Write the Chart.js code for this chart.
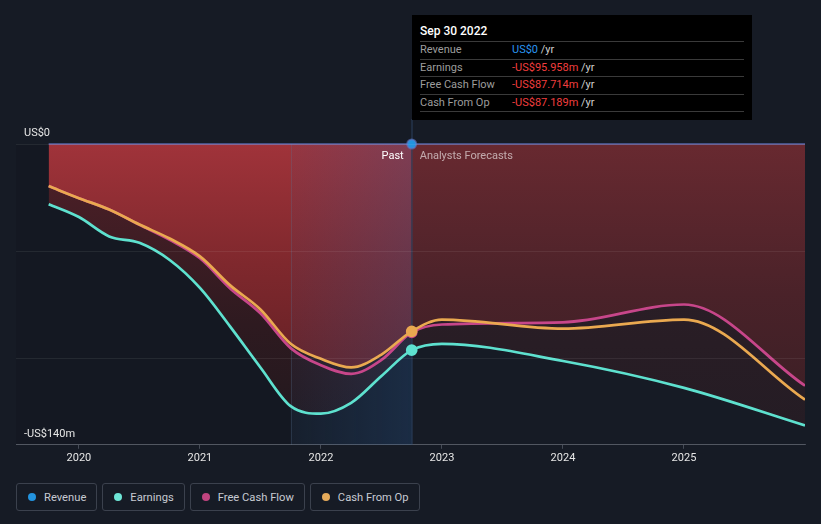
<!DOCTYPE html>
<html>
<head>
<meta charset="utf-8">
<script src="https://cdn.jsdelivr.net/npm/chart.js@4.4.1/dist/chart.umd.min.js"></script>
<style>
  html, body { margin: 0; padding: 0; background: #161b25; }
  body { width: 821px; height: 524px; position: relative; overflow: hidden; font-family: Roboto, 'Noto Sans', sans-serif; }
  #chart { position: absolute; left: 0; top: 0; }
  #tip { position: absolute; top: 15px; width: 324px; background: #000; padding: 8px 8px 8px 8px; font-size: 11px; }
  #tip .title { color: #fff; font-size: 12px; font-weight: 500; height: 18px; line-height: 16px; }
  #tip .row { border-top: 1px solid #3a3a3a; height: 16.5px; line-height: 16.5px; display: flex; }
  #tip .row:last-child { border-bottom: 1px solid #3a3a3a; }
  #tip .lab { width: 92px; color: #9d9d9d; }
  #tip .unit { color: #cfcfcf; }
  #legend { position: absolute; left: 16px; top: 483px; display: flex; gap: 5px; }
  #legend .item { box-sizing: border-box; height: 28px; border: 1px solid #3b414d; border-radius: 3px; padding: 0 10px 0 11px; display: flex; align-items: center; color: #c6cad2; font-size: 11.2px; }
  #legend .dot { width: 8px; height: 8px; border-radius: 50%; margin-right: 8px; }
</style>
</head>
<body>
<canvas id="chart" width="821" height="470"></canvas>
<div id="tip"></div>
<div id="legend"></div>
<script>
// periods as decimal years: quarterly history, then yearly analyst forecasts
const periods      = [2019.75, 2020.0, 2020.25, 2020.5, 2020.75, 2021.0, 2021.25, 2021.5, 2021.75, 2022.0, 2022.25, 2022.5, 2022.75, 2023.0, 2024.0, 2025.0, 2026.0];
const revenue      = [0, 0, 0, 0, 0, 0, 0, 0, 0, 0, 0, 0, 0, 0, 0, 0, 0];
const earnings     = [-28, -34, -43, -46, -54, -67, -85, -104, -122, -125.5, -120.5, -108, -95.958, -93, -101, -113.5, -131];
const freeCashFlow = [-19.6, -25.2, -30.5, -37.6, -44.6, -53.2, -67.2, -78.8, -95, -103, -107, -100.5, -87.714, -84, -83, -74.7, -112.5];
const cashFromOp   = [-19.6, -25.2, -30.5, -37.5, -44, -52.3, -65.8, -77, -93, -100, -104, -98, -87.189, -81.7, -85.9, -81.7, -119];
const yearTicks  = [2020, 2021, 2022, 2023, 2024, 2025];
const valueTicks = [-140, -100, -50, 0];
const seriesNames  = ['Revenue', 'Earnings', 'Free Cash Flow', 'Cash From Op'];
const seriesColors = ['#2394df', '#5ee1cf', '#c7468a', '#eaa950'];
const legendColors = ['#2394df', '#6ee6d6', '#c0447f', '#e5aa5a'];
const pastDate = 2022.75;
const pastLabel = 'Sep 30 2022';
const bandStart = 2021.75;
const pastIndex = periods.indexOf(pastDate);

function money(v, dec) {
  if (v === 0) return 'US$0';
  return (v < 0 ? '-' : '') + 'US$' + Math.abs(v).toFixed(dec) + 'm';
}
function pts(values) {
  return periods.map((p, i) => ({ x: p, y: values[i] }));
}

const canvas = document.getElementById('chart');
const ctx = canvas.getContext('2d');
const TOP = 144, BOTTOM = 444;
function vgrad(stops) {
  const g = ctx.createLinearGradient(0, TOP, 0, BOTTOM);
  stops.forEach(s => g.addColorStop(s[0], s[1]));
  return g;
}
const brightPast = vgrad([[0, 'rgb(160,51,58)'], [0.4, 'rgb(127,40,45)'], [1, 'rgb(85,28,33)']]);
const brightFore = vgrad([[0, 'rgb(104,41,48)'], [0.5, 'rgb(74,34,41)'], [1, 'rgb(55,30,36)']]);
const darkPast   = vgrad([[0, 'rgb(82,32,40)'], [0.6, 'rgb(46,26,32)'], [1, 'rgb(32,24,30)']]);
const darkFore   = vgrad([[0, 'rgb(48,31,39)'], [1, 'rgb(36,28,36)']]);

const foreSeg = color => c => (c.p0.parsed.x >= pastDate ? color : undefined);
const pointR = c => (c.dataIndex === pastIndex ? 4.5 : 0);

const decor = {
  id: 'decor',
  beforeDraw(chart) {
    const { ctx, chartArea: a, scales: { x } } = chart;
    const bx = x.getPixelForValue(bandStart);
    ctx.save();
    ctx.fillStyle = 'rgba(0,0,0,0.08)';
    ctx.fillRect(a.left, a.top, bx - a.left, a.bottom - a.top);
    ctx.restore();
  },
  beforeDatasetsDraw(chart) {
    const { ctx, chartArea: a, scales: { x } } = chart;
    const bx = x.getPixelForValue(bandStart);
    const px = x.getPixelForValue(pastDate);
    ctx.save();
    const g = ctx.createLinearGradient(bx, 0, px, 0);
    g.addColorStop(0, 'rgba(40,90,150,0.08)');
    g.addColorStop(1, 'rgba(40,90,150,0.28)');
    ctx.fillStyle = g;
    ctx.fillRect(bx, a.top, px - bx, a.bottom - a.top);
    ctx.fillStyle = 'rgba(90,120,150,0.25)';
    ctx.fillRect(Math.round(bx), a.top, 1, a.bottom - a.top);
    ctx.fillStyle = 'rgba(45,70,100,0.9)';
    ctx.fillRect(Math.round(px) - 0.5, 119, 1, a.bottom - 119);
    ctx.restore();
  },
  afterDatasetsDraw(chart) {
    const { ctx, chartArea: a, scales: { x, y } } = chart;
    const px = x.getPixelForValue(pastDate);
    ctx.save();
    ctx.font = '11px Roboto';
    ctx.textBaseline = 'middle';
    ctx.textAlign = 'right';
    ctx.fillStyle = '#ffffff';
    ctx.fillText('Past', px - 8, a.top + 12);
    ctx.textAlign = 'left';
    ctx.fillStyle = 'rgba(255,255,255,0.6)';
    ctx.fillText('Analysts Forecasts', px + 8, a.top + 12);
    ctx.fillStyle = '#e6e6e6';
    const yMax = valueTicks[valueTicks.length - 1], yMin = valueTicks[0];
    ctx.fillText(money(yMax, 0), 24, y.getPixelForValue(yMax) - 11);
    ctx.fillText(money(yMin, 0), 24, y.getPixelForValue(yMin) - 11);
    ctx.restore();
  }
};

const chart = new Chart(ctx, {
  type: 'line',
  data: {
    datasets: [
      {
        label: seriesNames[0], data: pts(revenue), clip: false,
        borderColor: 'rgba(100,120,200,0.6)', borderWidth: 2, fill: false,
        pointRadius: pointR, pointBackgroundColor: seriesColors[0]
      },
      {
        label: seriesNames[3], data: pts(cashFromOp),
        borderColor: seriesColors[3], borderWidth: 2.7,
        fill: { target: 2, above: darkPast, below: 'rgba(0,0,0,0)' },
        segment: { backgroundColor: foreSeg(darkFore) },
        pointRadius: pointR, pointBackgroundColor: seriesColors[3]
      },
      {
        label: seriesNames[2], data: pts(freeCashFlow),
        borderColor: seriesColors[2], borderWidth: 2.7,
        fill: 'origin', backgroundColor: brightPast,
        segment: { backgroundColor: foreSeg(brightFore) },
        pointRadius: pointR, pointBackgroundColor: seriesColors[2]
      },
      {
        label: seriesNames[1], data: pts(earnings),
        borderColor: seriesColors[1], borderWidth: 2.7,
        fill: 'origin', backgroundColor: darkPast,
        segment: { backgroundColor: foreSeg(darkFore) },
        pointRadius: pointR, pointBackgroundColor: seriesColors[1]
      }
    ]
  },
  options: {
    responsive: false,
    animation: false,
    devicePixelRatio: 1,
    events: [],
    layout: { padding: { left: 16, right: 16, top: 144, bottom: 2 } },
    elements: {
      line: { cubicInterpolationMode: 'monotone' },
      point: { borderColor: '#ffffff', borderWidth: 1.2, hoverRadius: 0 }
    },
    plugins: {
      legend: { display: false },
      tooltip: { enabled: false },
      filler: { drawTime: 'beforeDatasetsDraw' }
    },
    scales: {
      x: {
        type: 'linear', min: 2019.48, max: 2026.0,
        afterBuildTicks: s => { s.ticks = yearTicks.map(v => ({ value: v })); },
        ticks: { color: '#e6e6e6', font: { family: 'Roboto', size: 11 }, padding: 3, callback: v => String(v), maxRotation: 0 },
        grid: { drawOnChartArea: false, drawTicks: true, tickLength: 4, color: '#454b56' },
        border: { color: '#454b56' }
      },
      y: {
        min: valueTicks[0], max: valueTicks[valueTicks.length - 1],
        afterBuildTicks: s => { s.ticks = valueTicks.map(v => ({ value: v })); },
        ticks: { display: false },
        grid: { drawTicks: false, color: 'rgba(255,255,255,0.07)', z: 1 },
        border: { display: false }
      }
    }
  },
  plugins: [decor]
});

// tooltip box anchored at the last reported period
const tip = document.getElementById('tip');
tip.style.left = Math.round(chart.scales.x.getPixelForValue(pastDate)) + 'px';
const rows = [
  [seriesNames[0], revenue[pastIndex], '#2a95ef'],
  [seriesNames[1], earnings[pastIndex], '#f03e3e'],
  [seriesNames[2], freeCashFlow[pastIndex], '#f03e3e'],
  [seriesNames[3], cashFromOp[pastIndex], '#f03e3e']
];
tip.innerHTML = '<div class="title">' + pastLabel + '</div>' + rows.map(r =>
  '<div class="row"><span class="lab">' + r[0] + '</span><span style="color:' + r[2] + '">' +
  money(r[1], 3) + '</span><span class="unit">&nbsp;/yr</span></div>').join('');

const legend = document.getElementById('legend');
legend.innerHTML = seriesNames.map((n, i) =>
  '<div class="item"><span class="dot" style="background:' + legendColors[i] + '"></span>' + n + '</div>').join('');
</script>
</body>
</html>
